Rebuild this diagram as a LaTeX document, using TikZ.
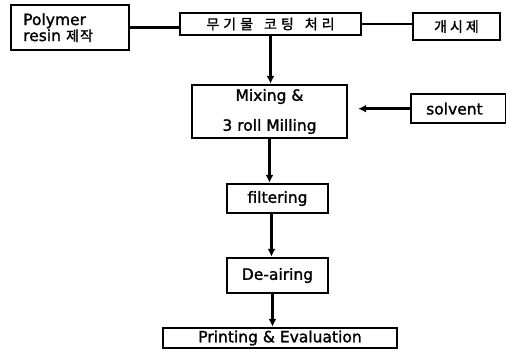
\documentclass[tikz,border=0pt]{standalone}
\usepackage{fontspec}
\setmainfont{DejaVu Sans}[FakeBold=1.5]
\newfontfamily\kr{Noto Sans CJK KR}[FakeBold=1.5]
\usetikzlibrary{arrows.meta}
\begin{document}
\begin{tikzpicture}[x=1pt,y=-1pt,
  box/.style={draw,line width=2.4pt,inner sep=0pt,font=\fontsize{15.5}{16}\selectfont},
  conn/.style={line width=2.4pt},
  arr/.style={conn,-{Latex[length=8pt,width=8pt]}}]
\useasboundingbox (0,0) rectangle (506,358);
\node[box,text width=94pt,inner xsep=12pt,align=left,minimum height=45pt,anchor=north west] (poly) at (10,4)
  {Polymer\\resin {\kr\fontsize{14}{16}\selectfont 제\hspace{1pt}작}};
\node[box,minimum width=181pt,minimum height=22pt] (mu) at (270.5,24)
  {\kr\fontsize{14}{16}\selectfont 무\hspace{4pt}기\hspace{4pt}물\hspace{11pt}코\hspace{4pt}팅\hspace{11pt}처\hspace{4pt}리};
\node[box,minimum width=87pt,minimum height=27pt] (init) at (456.5,26.5)
  {\kr\fontsize{14}{16}\selectfont 개\hspace{3pt}시\hspace{3pt}제};
\node[box,minimum width=155pt,minimum height=53pt,align=center,font=\fontsize{15.5}{18}\selectfont] (mix) at (269.5,111.5)
  {Mixing \&\\[12pt]3 roll Milling};
\node[box,text width=65pt,inner xsep=15pt,align=left,minimum height=29pt,anchor=north west] (solv) at (410,93) {solvent};
\node[box,minimum width=101pt,minimum height=29pt] (filt) at (277.5,198.5) {filtering};
\node[box,minimum width=101pt,minimum height=35pt] (deair) at (277.5,275.5) {De-airing};
\node[box,minimum width=234pt,minimum height=20pt] (print) at (280,338) {Printing \& Evaluation};
\draw[conn] (poly.east) -- (poly.east -| mu.west);
\draw[conn] (mu.east) -- (mu.east -| init.west);
\draw[arr] (mu.south) -- (mu.south |- mix.north);
\draw[arr] (solv.west) -- ([xshift=10pt]mix.east |- solv.west);
\draw[arr] (mix.south) -- (mix.south |- filt.north);
\draw[arr] ([xshift=-6pt]filt.south) -- ([xshift=-6pt]deair.north);
\draw[arr] ([xshift=-5pt]deair.south) -- ([xshift=-5pt]deair.south |- print.north);
\end{tikzpicture}
\end{document}
